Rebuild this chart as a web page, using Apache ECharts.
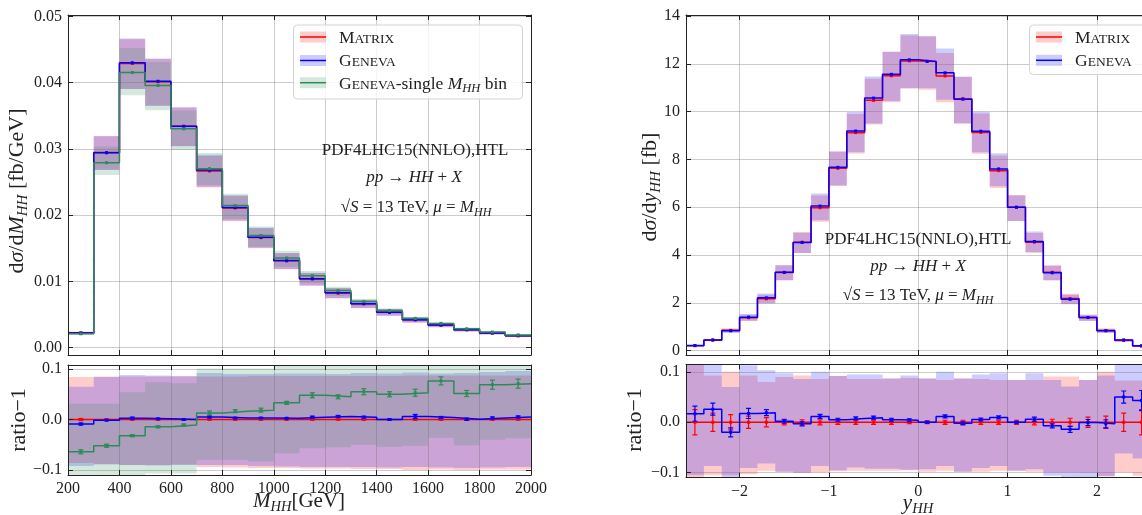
<!DOCTYPE html>
<html><head><meta charset="utf-8">
<script src="https://cdn.jsdelivr.net/npm/echarts@6/dist/echarts.min.js"></script>
<style>html,body{margin:0;padding:0;background:#fff}#c{width:1142px;height:515px}</style>
</head><body><div id="c"></div>
<script>
// ================= DATA =================
// --- M_HH distribution (left) ---
const mhhEdges = [200,300,400,500,600,700,800,900,1000,1100,1200,1300,1400,1500,1600,1700,1800,1900,2000];
const mhhMatrix = [0.00224,0.02945,0.04289,0.04014,0.03340,0.02667,0.02109,0.01661,0.01311,0.01037,0.00825,0.00662,0.00534,0.00420,0.00341,0.00272,0.00221,0.00180];
const mhhGeneva = [0.00222,0.02941,0.04300,0.04020,0.03340,0.02680,0.02115,0.01666,0.01314,0.01042,0.00830,0.00665,0.00534,0.00423,0.00342,0.00272,0.00222,0.00181];
const mhhSingle = [0.00210,0.02792,0.04152,0.03956,0.03303,0.02702,0.02144,0.01692,0.01354,0.01087,0.00862,0.00698,0.00561,0.00442,0.00367,0.00286,0.00236,0.00193];
const mhhRatioMatrix = [0,0,0,0,0,0,0,0,0,0,0,0,0,0,0,0,0,0];
const mhhRatioGeneva = [-0.009,-0.0015,0.0026,0.0015,0.0,0.005,0.003,0.003,0.0025,0.0045,0.006,0.0045,0.0,0.006,0.004,0.0005,0.003,0.005];
const mhhRatioSingle = [-0.064,-0.052,-0.032,-0.0145,-0.011,0.013,0.0165,0.0185,0.033,0.048,0.045,0.055,0.050,0.053,0.0765,0.0515,0.069,0.071];
const mhhErrMatrix = [0.002,0.001,0.001,0.001,0.001,0.001,0.001,0.001,0.001,0.001,0.001,0.001,0.001,0.001,0.001,0.001,0.001,0.001];
const mhhErrGeneva = [0.002,0.001,0.002,0.001,0.001,0.002,0.001,0.001,0.001,0.002,0.002,0.002,0.001,0.004,0.002,0.002,0.002,0.002];
const mhhErrSingle = [0.004,0.003,0.002,0.002,0.002,0.004,0.003,0.004,0.003,0.005,0.004,0.006,0.005,0.007,0.008,0.006,0.009,0.009];
// uncertainty bands relative to MATRIX central value (ratio-1)
const mhhBandMatrixHi = [0.084,0.085,0.085,0.085,0.085,0.085,0.085,0.086,0.086,0.086,0.086,0.086,0.086,0.087,0.087,0.087,0.087,0.087];
const mhhBandMatrixLo = [-0.086,-0.088,-0.090,-0.090,-0.089,-0.094,-0.095,-0.096,-0.096,-0.097,-0.097,-0.098,-0.098,-0.100,-0.099,-0.100,-0.099,-0.099];
const mhhBandGenevaHi = [0.065,0.084,0.088,0.087,0.086,0.092,0.090,0.090,0.091,0.091,0.090,0.092,0.091,0.093,0.091,0.092,0.094,0.096];
const mhhBandGenevaLo = [-0.092,-0.089,-0.090,-0.091,-0.090,-0.090,-0.090,-0.092,-0.093,-0.094,-0.094,-0.094,-0.095,-0.094,-0.095,-0.096,-0.095,-0.094];
const mhhBandSingleHi = [0.031,0.031,0.054,0.074,0.072,0.101,0.101,0.101,0.115,0.115,0.115,0.115,0.115,0.115,0.115,0.115,0.115,0.115];
const mhhBandSingleLo = [-0.115,-0.115,-0.112,-0.107,-0.107,-0.080,-0.080,-0.083,-0.067,-0.057,-0.055,-0.050,-0.054,-0.052,-0.036,-0.051,-0.040,-0.037];

// --- y_HH distribution (right) ---
const yEdges = [-2.6,-2.4,-2.2,-2.0,-1.8,-1.6,-1.4,-1.2,-1.0,-0.8,-0.6,-0.4,-0.2,0,0.2,0.4,0.6,0.8,1.0,1.2,1.4,1.6,1.8,2.0,2.2,2.4,2.6];
const yMatrix = [0.21,0.44,0.85,1.38,2.17,3.27,4.54,5.98,7.63,9.12,10.47,11.50,12.12,12.10,11.49,10.54,9.13,7.53,6.00,4.54,3.28,2.18,1.39,0.84,0.43,0.20];
const yGeneva = [0.214,0.451,0.833,1.404,2.211,3.277,4.526,6.049,7.668,9.188,10.564,11.558,12.168,12.10,11.622,10.519,9.180,7.602,6.00,4.567,3.257,2.149,1.389,0.837,0.452,0.209];
const yRatioMatrix = [0,0,0,0,0,0,0,0,0,0,0,0,0,0,0,0,0,0,0,0,0,0,0,0,0,0];
const yRatioGeneva = [0.017,0.026,-0.020,0.0175,0.019,0.002,-0.003,0.0115,0.005,0.0075,0.009,0.005,0.004,0.0,0.0115,-0.002,0.0055,0.0095,0.0,0.006,-0.007,-0.014,-0.0005,-0.003,0.050,0.043];
const yErrMatrix = [0.025,0.018,0.015,0.012,0.009,0.005,0.005,0.005,0.004,0.004,0.004,0.004,0.003,0.003,0.004,0.004,0.004,0.004,0.004,0.005,0.006,0.008,0.010,0.012,0.018,0.025];
const yErrGeneva = [0.015,0.012,0.009,0.010,0.006,0.004,0.004,0.004,0.003,0.003,0.003,0.003,0.003,0.002,0.003,0.003,0.003,0.003,0.002,0.004,0.004,0.006,0.006,0.008,0.012,0.020];
const yBandMatrixHi = [0.12,0.093,0.100,0.093,0.080,0.090,0.093,0.086,0.092,0.086,0.086,0.087,0.088,0.087,0.084,0.087,0.086,0.084,0.084,0.084,0.091,0.091,0.084,0.100,0.083,0.083];
const yBandMatrixLo = [-0.12,-0.105,-0.105,-0.103,-0.096,-0.098,-0.100,-0.099,-0.097,-0.096,-0.096,-0.096,-0.095,-0.098,-0.096,-0.098,-0.098,-0.096,-0.096,-0.098,-0.099,-0.099,-0.100,-0.107,-0.099,-0.106];
const yBandGenevaHi = [0.12,0.12,0.070,0.113,0.103,0.097,0.086,0.100,0.092,0.095,0.095,0.087,0.093,0.087,0.100,0.087,0.095,0.097,0.084,0.097,0.084,0.071,0.084,0.093,0.12,0.12];
const yBandGenevaLo = [-0.105,-0.087,-0.12,-0.091,-0.082,-0.098,-0.100,-0.087,-0.095,-0.090,-0.092,-0.092,-0.094,-0.093,-0.087,-0.098,-0.091,-0.087,-0.096,-0.093,-0.106,-0.109,-0.110,-0.107,-0.062,-0.072];

// --- tick labels ---
const mhhXTicks = [200,400,600,800,1000,1200,1400,1600,1800,2000];
const mhhYTicks = [0,0.01,0.02,0.03,0.04,0.05];
const yhhXTicks = [-2,-1,0,1,2];
const yhhYTicks = [0,2,4,6,8,10,12,14];
const ratioTicks = [-0.1,0,0.1];

// ================= STYLE =================
const F = '"Liberation Serif","DejaVu Serif",serif';
const AX = '#222';
const GRIDC = 'rgba(110,110,110,0.36)';
const RED = '#ff0000', BLUE = '#0000ff', GREEN = '#2e8b57';
const RED_A = 'rgba(255,0,0,0.2)', BLUE_A = 'rgba(0,0,255,0.2)', GREEN_A = 'rgba(46,139,87,0.2)';

const RANGES = {
  mhhMain: [-0.0011, 0.0502],
  mhhRatio: [-0.110, 0.108],
  yMain: [-0.18, 14.04],
  yRatio: [-0.110, 0.115]
};

function fmtTicks(ticks, dec) {
  return function (v) {
    if (!ticks.some(t => Math.abs(t - v) < 1e-9)) return '';
    const s = Math.abs(v) < 1e-12 ? (0).toFixed(dec) : v.toFixed(dec);
    return s.replace('-', '\u2212');
  };
}

function axis(gridIndex, pos, range, ticks, dec, showLabels, secondary, extra) {
  return Object.assign({
    type: 'value', gridIndex: gridIndex, position: pos, min: range[0], max: range[1],
    z: secondary ? 2 : 6,
    axisLine: { show: true, onZero: false, lineStyle: { color: AX, width: 1 } },
    axisTick: { show: true, inside: true, length: 5, lineStyle: { color: AX, width: 1 } },
    minorTick: { show: false },
    axisLabel: { show: showLabels, formatter: fmtTicks(ticks, dec), margin: 6,
      fontFamily: F, fontSize: 16, color: '#222', showMinLabel: true, showMaxLabel: true },
    splitLine: { show: secondary, lineStyle: { color: GRIDC, width: 1 } }
  }, extra || {});
}

function bandSeries(xi, yi, edges, lo, hi, color, range) {
  const data = lo.map((l, i) => [edges[i], edges[i + 1], l, hi[i]]);
  return {
    type: 'custom', xAxisIndex: xi, yAxisIndex: yi, z: 1, silent: true, clip: true, animation: false,
    data: data, encode: { x: [0, 1], y: [2, 3] },
    renderItem: function (params, api) {
      if (params.dataIndex !== 0) return;
      const cl = v => Math.max(range[0], Math.min(range[1], v));
      const up = [], dn = [];
      data.forEach(d => {
        up.push(api.coord([d[0], cl(d[3])]), api.coord([d[1], cl(d[3])]));
        dn.push(api.coord([d[0], cl(d[2])]), api.coord([d[1], cl(d[2])]));
      });
      return { type: 'polygon', shape: { points: up.concat(dn.reverse()) }, style: { fill: color } };
    }
  };
}

function stepSeries(xi, yi, edges, vals, color) {
  const d = vals.map((v, i) => [edges[i], v]);
  d.push([edges[edges.length - 1], vals[vals.length - 1]]);
  return { type: 'line', xAxisIndex: xi, yAxisIndex: yi, step: 'end', data: d, symbol: 'none',
    lineStyle: { color: color, width: 1.5 }, z: 3, silent: true, animation: false, clip: true };
}

function errSeries(xi, yi, edges, vals, errs, color, cap, msize) {
  const data = vals.map((v, i) => [(edges[i] + edges[i + 1]) / 2, v, errs[i]]);
  return {
    type: 'custom', xAxisIndex: xi, yAxisIndex: yi, z: 4, silent: true, animation: false, clip: true,
    data: data, encode: { x: 0, y: 1 },
    renderItem: function (params, api) {
      const x = api.value(0), v = api.value(1), e = api.value(2);
      const c = api.coord([x, v]), t = api.coord([x, v + e]), b = api.coord([x, v - e]);
      const st = { stroke: color, lineWidth: 1.2 };
      const ch = [
        { type: 'line', shape: { x1: c[0], y1: t[1], x2: c[0], y2: b[1] }, style: st },
        { type: 'rect', shape: { x: c[0] - msize / 2, y: c[1] - msize / 2, width: msize, height: msize }, style: { fill: color } }
      ];
      if (cap > 0) {
        ch.push({ type: 'line', shape: { x1: c[0] - cap, y1: t[1], x2: c[0] + cap, y2: t[1] }, style: st });
        ch.push({ type: 'line', shape: { x1: c[0] - cap, y1: b[1], x2: c[0] + cap, y2: b[1] }, style: st });
      }
      return { type: 'group', children: ch };
    }
  };
}

const rel = (c, r) => c.map((v, i) => v * (1 + r[i]));
const mul = (c, r) => c.map((v, i) => v * r[i]);

// rich text styles (M = main size, s = subscript size, sc = small-caps size); all tokens top aligned
function rich(M, s, sc) {
  const base = { fontFamily: F, fill: '#222', verticalAlign: 'top' };
  return {
    n: Object.assign({}, base, { fontSize: M, lineHeight: M }),
    i: Object.assign({}, base, { fontSize: M, lineHeight: M, fontStyle: 'italic' }),
    s: Object.assign({}, base, { fontSize: s, lineHeight: M, fontStyle: 'italic',
      padding: [0.8 * (M - s) + 0.17 * M, 0, 0, 0] }),
    c: Object.assign({}, base, { fontSize: sc, lineHeight: M, padding: [0.8 * (M - sc), 0, 0, 0] })
  };
}
function txt(x, y, text, M, s, rot) {
  return { type: 'text', x: x, y: y, rotation: rot || 0, z: 100, silent: true,
    style: { text: text, rich: rich(M, s, M * 0.78), font: M + 'px ' + F, fill: '#222', align: 'center', verticalAlign: 'middle' } };
}

function legend(x, y, w, h, rows) {
  const els = [{ type: 'rect', z: 99, silent: true, shape: { x: x, y: y, width: w, height: h, r: 4 },
    style: { fill: 'rgba(255,255,255,0.82)', stroke: '#d4d4d4', lineWidth: 1 } }];
  rows.forEach(r => {
    els.push({ type: 'rect', z: 100, silent: true, shape: { x: x + 6.5, y: r.y - 5.5, width: 26, height: 11 }, style: { fill: r.fill } });
    els.push({ type: 'line', z: 101, silent: true, shape: { x1: x + 6.5, y1: r.y, x2: x + 32.5, y2: r.y }, style: { stroke: r.color, lineWidth: 1.5 } });
    els.push({ type: 'text', z: 101, silent: true, x: x + 45.5, y: r.y + 1,
      style: { text: r.text, rich: rich(17.5, 12.5, 13.5), font: '17.5px ' + F, fill: '#222', align: 'left', verticalAlign: 'middle' } });
  });
  return els;
}

// ================= CHART =================
const chart = echarts.init(document.getElementById('c'), null, { renderer: 'canvas', width: 1142, height: 515 });

const grids = [
  { left: 68, top: 15, width: 463, height: 340 },
  { left: 68, top: 365, width: 463, height: 110 },
  { left: 686, top: 15, width: 464.5, height: 340 },
  { left: 686, top: 364.3, width: 464.5, height: 113.4 }
].map(g => Object.assign({ show: false, containLabel: false, outerBoundsMode: 'none' }, g));

const xAxes = [
  axis(0, 'bottom', [200, 2000], mhhXTicks, 0, false, false, { interval: 200 }),
  axis(0, 'top', [200, 2000], mhhXTicks, 0, false, true, { interval: 200 }),
  axis(1, 'bottom', [200, 2000], mhhXTicks, 0, true, false, { interval: 200 }),
  axis(1, 'top', [200, 2000], mhhXTicks, 0, false, true, { interval: 200 }),
  axis(2, 'bottom', [-2.6, 2.6], yhhXTicks, 0, false, false, { splitNumber: 5 }),
  axis(2, 'top', [-2.6, 2.6], yhhXTicks, 0, false, true, { splitNumber: 5 }),
  axis(3, 'bottom', [-2.6, 2.6], yhhXTicks, 0, true, false, { splitNumber: 5 }),
  axis(3, 'top', [-2.6, 2.6], yhhXTicks, 0, false, true, { splitNumber: 5 })
];
const yAxes = [
  axis(0, 'left', RANGES.mhhMain, mhhYTicks, 2, true, false, { splitNumber: 5 }),
  axis(0, 'right', RANGES.mhhMain, mhhYTicks, 2, false, true, { splitNumber: 5 }),
  axis(1, 'left', RANGES.mhhRatio, ratioTicks, 1, true, false, { splitNumber: 2 }),
  axis(1, 'right', RANGES.mhhRatio, ratioTicks, 1, false, true, { splitNumber: 2 }),
  axis(2, 'left', RANGES.yMain, yhhYTicks, 0, true, false, { splitNumber: 7 }),
  axis(2, 'right', RANGES.yMain, yhhYTicks, 0, false, true, { splitNumber: 7 }),
  axis(3, 'left', RANGES.yRatio, ratioTicks, 1, true, false, { splitNumber: 2 }),
  axis(3, 'right', RANGES.yRatio, ratioTicks, 1, false, true, { splitNumber: 2 })
];

const series = [
  // ---- left main ----
  bandSeries(0, 0, mhhEdges, rel(mhhMatrix, mhhBandMatrixLo), rel(mhhMatrix, mhhBandMatrixHi), RED_A, RANGES.mhhMain),
  bandSeries(0, 0, mhhEdges, rel(mhhMatrix, mhhBandGenevaLo), rel(mhhMatrix, mhhBandGenevaHi), BLUE_A, RANGES.mhhMain),
  bandSeries(0, 0, mhhEdges, rel(mhhMatrix, mhhBandSingleLo), rel(mhhMatrix, mhhBandSingleHi), GREEN_A, RANGES.mhhMain),
  stepSeries(0, 0, mhhEdges, mhhMatrix, RED),
  stepSeries(0, 0, mhhEdges, mhhGeneva, BLUE),
  stepSeries(0, 0, mhhEdges, mhhSingle, GREEN),
  errSeries(0, 0, mhhEdges, mhhMatrix, mul(mhhMatrix, mhhErrMatrix), RED, 0, 3),
  errSeries(0, 0, mhhEdges, mhhGeneva, mul(mhhGeneva, mhhErrGeneva), BLUE, 0, 3),
  errSeries(0, 0, mhhEdges, mhhSingle, mul(mhhSingle, mhhErrSingle), GREEN, 0, 3),
  // ---- left ratio ----
  bandSeries(2, 2, mhhEdges, mhhBandMatrixLo, mhhBandMatrixHi, RED_A, RANGES.mhhRatio),
  bandSeries(2, 2, mhhEdges, mhhBandGenevaLo, mhhBandGenevaHi, BLUE_A, RANGES.mhhRatio),
  bandSeries(2, 2, mhhEdges, mhhBandSingleLo, mhhBandSingleHi, GREEN_A, RANGES.mhhRatio),
  stepSeries(2, 2, mhhEdges, mhhRatioMatrix, RED),
  stepSeries(2, 2, mhhEdges, mhhRatioGeneva, BLUE),
  stepSeries(2, 2, mhhEdges, mhhRatioSingle, GREEN),
  errSeries(2, 2, mhhEdges, mhhRatioMatrix, mhhErrMatrix, RED, 2.5, 3),
  errSeries(2, 2, mhhEdges, mhhRatioGeneva, mhhErrGeneva, BLUE, 2.5, 3),
  errSeries(2, 2, mhhEdges, mhhRatioSingle, mhhErrSingle, GREEN, 2.5, 3),
  // ---- right main ----
  bandSeries(4, 4, yEdges, rel(yMatrix, yBandMatrixLo), rel(yMatrix, yBandMatrixHi), RED_A, RANGES.yMain),
  bandSeries(4, 4, yEdges, rel(yMatrix, yBandGenevaLo), rel(yMatrix, yBandGenevaHi), BLUE_A, RANGES.yMain),
  stepSeries(4, 4, yEdges, yMatrix, RED),
  stepSeries(4, 4, yEdges, yGeneva, BLUE),
  errSeries(4, 4, yEdges, yMatrix, mul(yMatrix, yErrMatrix), RED, 0, 3),
  errSeries(4, 4, yEdges, yGeneva, mul(yGeneva, yErrGeneva), BLUE, 0, 3),
  // ---- right ratio ----
  bandSeries(6, 6, yEdges, yBandMatrixLo, yBandMatrixHi, RED_A, RANGES.yRatio),
  bandSeries(6, 6, yEdges, yBandGenevaLo, yBandGenevaHi, BLUE_A, RANGES.yRatio),
  stepSeries(6, 6, yEdges, yRatioMatrix, RED),
  stepSeries(6, 6, yEdges, yRatioGeneva, BLUE),
  errSeries(6, 6, yEdges, yRatioMatrix, yErrMatrix, RED, 2.5, 3),
  errSeries(6, 6, yEdges, yRatioGeneva, yErrGeneva, BLUE, 2.5, 3)
];

const graphic = [].concat(
  // axis titles
  txt(17, 191, '{n|d}{i|σ}{n|/d}{i|M}{s|HH}{n| [fb/GeV]}', 22, 15, Math.PI / 2),
  txt(19, 420, '{n|ratio−1}', 22, 15, Math.PI / 2),
  txt(299, 501, '{i|M}{s|HH}{n|[GeV]}', 21, 14.5, 0),
  txt(650, 187, '{n|d}{i|σ}{n|/d}{i|y}{s|HH}{n| [fb]}', 22, 15, Math.PI / 2),
  txt(635, 420, '{n|ratio−1}', 22, 15, Math.PI / 2),
  txt(918, 503, '{i|y}{s|HH}', 21, 14.5, 0),
  // annotations
  txt(415, 151, '{n|PDF4LHC15(NNLO),HTL}', 17, 12, 0),
  txt(414, 178, '{i|pp}{n| → }{i|HH}{n| + }{i|X}', 17, 12, 0),
  txt(416, 208, '{n|√}{i|S}{n| = 13 TeV, }{i|μ}{n| = }{i|M}{s|HH}', 17, 12, 0),
  txt(918, 240, '{n|PDF4LHC15(NNLO),HTL}', 17, 12, 0),
  txt(918, 267, '{i|pp}{n| → }{i|HH}{n| + }{i|X}', 17, 12, 0),
  txt(918, 296, '{n|√}{i|S}{n| = 13 TeV, }{i|μ}{n| = }{i|M}{s|HH}', 17, 12, 0),
  // legends
  legend(293.5, 25, 229, 74, [
    { y: 37, color: RED, fill: RED_A, text: '{n|M}{c|ATRIX}' },
    { y: 60.5, color: BLUE, fill: BLUE_A, text: '{n|G}{c|ENEVA}' },
    { y: 82.7, color: GREEN, fill: GREEN_A, text: '{n|G}{c|ENEVA}{n|-single }{i|M}{s|HH}{n| bin}' }
  ]),
  legend(1029.5, 25, 130, 49.5, [
    { y: 37, color: RED, fill: RED_A, text: '{n|M}{c|ATRIX}' },
    { y: 60.3, color: BLUE, fill: BLUE_A, text: '{n|G}{c|ENEVA}' }
  ])
);

chart.setOption({
  animation: false,
  backgroundColor: '#fff',
  grid: grids,
  xAxis: xAxes,
  yAxis: yAxes,
  series: series,
  graphic: graphic
});
</script>
</body></html>
